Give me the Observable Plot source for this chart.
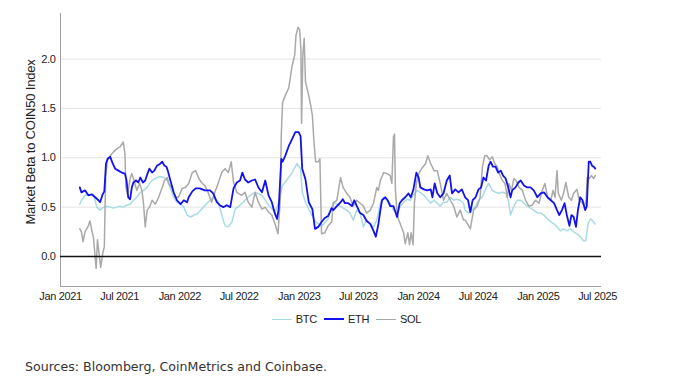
<!DOCTYPE html>
<html>
<head>
<meta charset="utf-8">
<script src="https://cdn.jsdelivr.net/npm/d3@7"></script>
<script src="https://cdn.jsdelivr.net/npm/@observablehq/plot@0.6"></script>
<style>
  html, body { margin: 0; padding: 0; background: #fff; }
  #wrap { position: relative; width: 689px; height: 384px; overflow: hidden; }
  #chart svg { display: block; }
  #chart svg text { letter-spacing: -0.35px; }
  #legend { position: absolute; top: 313px; left: 0; width: 689px; display: flex; justify-content: center; gap: 7px;
            font: 11px "Liberation Sans", Arial, sans-serif; letter-spacing: -0.3px; color: #222; padding-left: 2px; }
  #legend .item { display: flex; align-items: center; gap: 4px; }
  #legend .sw { display: inline-block; width: 20px; height: 0; border-top-style: solid; }
  #source { position: absolute; top: 359px; left: 25px; font: 12.6px "DejaVu Sans", Verdana, sans-serif; color: #333; }
</style>
</head>
<body>
<div id="wrap">
  <div id="chart"></div>
  <div id="legend"></div>
  <div id="source">Sources: Bloomberg, CoinMetrics and Coinbase.</div>
</div>
<script>
const seriesNames = ["BTC", "ETH", "SOL"];
const seriesColors = ["#a9dbe4", "#1212ee", "#a9a9a9"];

const xTicks = ["2021-01-01","2021-07-01","2022-01-01","2022-07-01","2023-01-01","2023-07-01","2024-01-01","2024-07-01","2025-01-01","2025-07-01"];
const yTicks = [0, 0.5, 1, 1.5, 2];
const yLabel = "Market Beta to COIN50 Index";

const ethDates = ["2021-03-01","2021-03-06","2021-03-17","2021-03-27","2021-04-07","2021-04-17","2021-04-27","2021-05-02","2021-05-10","2021-05-15","2021-05-20","2021-05-25","2021-06-02","2021-06-10","2021-06-17","2021-06-27","2021-07-07","2021-07-17","2021-07-22","2021-07-27","2021-08-02","2021-08-07","2021-08-12","2021-08-20","2021-08-27","2021-09-02","2021-09-10","2021-09-17","2021-09-24","2021-09-30","2021-10-08","2021-10-15","2021-10-23","2021-11-02","2021-11-08","2021-11-15","2021-11-21","2021-11-25","2021-12-03","2021-12-13","2021-12-23","2022-01-03","2022-01-13","2022-01-23","2022-01-28","2022-02-08","2022-02-18","2022-03-03","2022-03-18","2022-04-03","2022-04-13","2022-04-24","2022-05-03","2022-05-14","2022-05-24","2022-06-04","2022-06-14","2022-06-24","2022-07-04","2022-07-11","2022-07-19","2022-07-29","2022-08-09","2022-08-19","2022-08-29","2022-09-09","2022-09-19","2022-09-29","2022-10-09","2022-10-17","2022-10-25","2022-10-30","2022-11-07","2022-11-11","2022-11-19","2022-11-30","2022-12-10","2022-12-20","2022-12-30","2023-01-05","2023-01-10","2023-01-20","2023-01-30","2023-02-10","2023-02-18","2023-02-28","2023-03-10","2023-03-20","2023-03-30","2023-04-10","2023-04-15","2023-04-26","2023-05-05","2023-05-14","2023-05-21","2023-05-31","2023-06-11","2023-06-18","2023-06-26","2023-07-06","2023-07-16","2023-07-26","2023-08-06","2023-08-16","2023-08-23","2023-08-31","2023-09-06","2023-09-11","2023-09-21","2023-09-28","2023-10-06","2023-10-16","2023-10-27","2023-11-04","2023-11-11","2023-11-21","2023-12-01","2023-12-08","2023-12-16","2023-12-25","2024-01-01","2024-01-06","2024-01-17","2024-01-27","2024-02-07","2024-02-12","2024-02-19","2024-02-27","2024-03-07","2024-03-17","2024-03-27","2024-04-05","2024-04-12","2024-04-22","2024-05-02","2024-05-12","2024-05-22","2024-05-31","2024-06-07","2024-06-14","2024-06-23","2024-07-02","2024-07-10","2024-07-17","2024-07-25","2024-08-02","2024-08-08","2024-08-15","2024-08-23","2024-08-31","2024-09-08","2024-09-15","2024-09-23","2024-10-01","2024-10-08","2024-10-13","2024-10-23","2024-11-01","2024-11-08","2024-11-18","2024-11-28","2024-12-08","2024-12-18","2024-12-29","2025-01-08","2025-01-18","2025-01-29","2025-02-08","2025-02-18","2025-02-27","2025-03-06","2025-03-14","2025-03-22","2025-03-29","2025-04-06","2025-04-12","2025-04-19","2025-04-26","2025-05-02","2025-05-09","2025-05-16","2025-05-24","2025-05-29","2025-06-04","2025-06-09","2025-06-14","2025-06-19","2025-06-24"];
const ethValues = [0.70,0.65,0.67,0.62,0.63,0.60,0.57,0.55,0.63,0.66,0.94,0.99,1.01,0.94,0.89,0.87,0.85,0.84,0.77,0.60,0.58,0.70,0.75,0.77,0.75,0.80,0.75,0.77,0.84,0.89,0.85,0.87,0.92,0.94,0.96,0.92,0.91,0.87,0.77,0.65,0.57,0.53,0.57,0.55,0.60,0.66,0.69,0.69,0.67,0.67,0.64,0.55,0.52,0.50,0.52,0.50,0.69,0.75,0.77,0.85,0.78,0.75,0.77,0.78,0.70,0.65,0.77,0.62,0.55,0.45,0.38,0.48,0.99,0.96,1.02,1.12,1.19,1.26,1.26,1.22,0.89,0.78,0.55,0.48,0.28,0.30,0.35,0.39,0.41,0.49,0.47,0.51,0.54,0.58,0.54,0.54,0.51,0.57,0.51,0.44,0.42,0.36,0.33,0.26,0.20,0.33,0.47,0.57,0.60,0.57,0.51,0.51,0.40,0.54,0.57,0.60,0.64,0.60,0.68,0.85,0.80,0.70,0.68,0.67,0.68,0.60,0.74,0.64,0.60,0.64,0.77,0.82,0.64,0.68,0.65,0.68,0.60,0.57,0.45,0.57,0.60,0.68,0.70,0.80,0.77,0.92,0.96,0.91,0.91,0.85,0.87,0.82,0.79,0.70,0.60,0.67,0.70,0.75,0.77,0.72,0.70,0.70,0.67,0.60,0.64,0.65,0.60,0.57,0.54,0.47,0.42,0.47,0.54,0.42,0.31,0.42,0.40,0.30,0.47,0.60,0.57,0.47,0.51,0.96,0.96,0.92,0.91,0.89];

const btcDates = ["2021-03-01","2021-03-06","2021-03-17","2021-04-12","2021-04-22","2021-05-02","2021-05-12","2021-05-22","2021-06-02","2021-06-12","2021-06-22","2021-07-02","2021-07-12","2021-07-22","2021-08-02","2021-08-12","2021-08-22","2021-09-02","2021-09-12","2021-09-23","2021-10-02","2021-10-12","2021-10-23","2021-11-02","2021-11-13","2021-11-23","2021-12-03","2021-12-13","2021-12-23","2022-01-03","2022-01-13","2022-01-23","2022-02-03","2022-02-13","2022-02-23","2022-03-08","2022-03-28","2022-04-13","2022-04-29","2022-05-09","2022-05-19","2022-05-29","2022-06-09","2022-06-19","2022-07-04","2022-07-19","2022-08-04","2022-08-19","2022-09-09","2022-09-29","2022-10-19","2022-10-30","2022-11-11","2022-11-25","2022-12-10","2022-12-25","2023-01-05","2023-01-10","2023-01-20","2023-01-30","2023-02-20","2023-03-10","2023-03-30","2023-04-15","2023-05-05","2023-05-26","2023-06-05","2023-06-15","2023-06-26","2023-07-06","2023-07-16","2023-07-26","2023-08-06","2023-08-16","2023-08-26","2023-09-06","2023-09-16","2023-09-26","2023-10-06","2023-10-16","2023-10-27","2023-11-06","2023-11-16","2023-11-27","2023-12-06","2023-12-16","2023-12-27","2024-01-06","2024-01-17","2024-01-27","2024-02-07","2024-02-17","2024-02-27","2024-03-07","2024-03-17","2024-03-27","2024-04-07","2024-04-17","2024-04-27","2024-05-07","2024-05-17","2024-05-22","2024-06-02","2024-06-12","2024-06-23","2024-07-02","2024-07-13","2024-07-23","2024-08-02","2024-08-13","2024-08-23","2024-09-02","2024-09-13","2024-09-23","2024-10-01","2024-10-08","2024-10-18","2024-10-28","2024-11-08","2024-11-18","2024-11-28","2024-12-08","2024-12-18","2024-12-29","2025-01-08","2025-01-18","2025-01-29","2025-02-08","2025-02-18","2025-02-27","2025-03-09","2025-03-19","2025-03-29","2025-04-09","2025-04-19","2025-04-29","2025-05-09","2025-05-19","2025-05-26","2025-06-02","2025-06-09","2025-06-14","2025-06-24"];
const btcValues = [0.53,0.57,0.62,0.63,0.50,0.47,0.50,0.51,0.50,0.49,0.50,0.51,0.50,0.52,0.53,0.57,0.60,0.65,0.67,0.70,0.75,0.78,0.80,0.81,0.80,0.77,0.69,0.60,0.55,0.53,0.50,0.42,0.40,0.42,0.43,0.48,0.55,0.60,0.55,0.42,0.31,0.30,0.35,0.48,0.52,0.57,0.62,0.65,0.62,0.52,0.45,0.55,0.72,0.78,0.85,0.94,0.89,0.65,0.55,0.48,0.35,0.31,0.38,0.55,0.51,0.47,0.44,0.37,0.47,0.44,0.30,0.37,0.33,0.30,0.37,0.54,0.60,0.57,0.54,0.47,0.44,0.51,0.55,0.58,0.57,0.62,0.67,0.65,0.62,0.58,0.54,0.57,0.54,0.51,0.55,0.55,0.60,0.57,0.58,0.57,0.54,0.47,0.44,0.47,0.51,0.57,0.60,0.68,0.74,0.67,0.65,0.64,0.65,0.64,0.57,0.42,0.51,0.57,0.57,0.54,0.51,0.49,0.47,0.44,0.44,0.42,0.38,0.35,0.33,0.30,0.26,0.28,0.26,0.28,0.25,0.23,0.20,0.16,0.16,0.33,0.38,0.37,0.33];

const solDates = ["2021-03-01","2021-03-06","2021-03-11","2021-03-17","2021-03-27","2021-04-01","2021-04-07","2021-04-12","2021-04-17","2021-04-20","2021-04-24","2021-04-30","2021-05-04","2021-05-10","2021-05-15","2021-05-19","2021-05-24","2021-06-02","2021-06-12","2021-06-22","2021-07-02","2021-07-12","2021-07-17","2021-07-20","2021-07-25","2021-08-02","2021-08-07","2021-08-14","2021-08-22","2021-08-31","2021-09-07","2021-09-12","2021-09-17","2021-09-23","2021-09-30","2021-10-08","2021-10-18","2021-10-28","2021-11-08","2021-11-15","2021-11-23","2021-11-28","2021-12-08","2021-12-18","2021-12-28","2022-01-08","2022-01-18","2022-01-28","2022-02-08","2022-02-18","2022-02-28","2022-03-08","2022-03-18","2022-03-28","2022-04-08","2022-04-18","2022-04-29","2022-05-09","2022-05-19","2022-05-29","2022-06-07","2022-06-14","2022-06-24","2022-07-09","2022-07-19","2022-07-29","2022-08-09","2022-08-19","2022-08-29","2022-09-09","2022-09-19","2022-09-29","2022-10-09","2022-10-19","2022-10-28","2022-11-04","2022-11-07","2022-11-11","2022-11-19","2022-11-30","2022-12-10","2022-12-18","2022-12-22","2022-12-28","2023-01-02","2023-01-06","2023-01-08","2023-01-12","2023-01-16","2023-01-20","2023-01-30","2023-02-05","2023-02-10","2023-02-15","2023-02-20","2023-02-28","2023-03-05","2023-03-08","2023-03-10","2023-03-20","2023-03-30","2023-04-10","2023-04-15","2023-04-26","2023-05-07","2023-05-15","2023-05-26","2023-06-05","2023-06-15","2023-06-26","2023-07-06","2023-07-16","2023-07-26","2023-08-06","2023-08-16","2023-08-26","2023-08-31","2023-09-06","2023-09-16","2023-09-26","2023-10-06","2023-10-11","2023-10-16","2023-10-19","2023-10-22","2023-10-27","2023-11-01","2023-11-06","2023-11-16","2023-11-21","2023-11-29","2023-12-04","2023-12-09","2023-12-15","2023-12-19","2023-12-25","2024-01-01","2024-01-12","2024-01-22","2024-01-29","2024-02-07","2024-02-17","2024-02-27","2024-03-07","2024-03-17","2024-03-27","2024-04-07","2024-04-17","2024-04-27","2024-05-07","2024-05-17","2024-05-22","2024-06-02","2024-06-07","2024-06-17","2024-06-28","2024-07-07","2024-07-14","2024-07-21","2024-07-28","2024-08-05","2024-08-13","2024-08-21","2024-08-28","2024-09-02","2024-09-13","2024-09-21","2024-09-28","2024-10-03","2024-10-11","2024-10-18","2024-10-25","2024-11-03","2024-11-13","2024-11-23","2024-12-03","2024-12-13","2024-12-23","2025-01-03","2025-01-13","2025-01-21","2025-01-29","2025-02-08","2025-02-15","2025-02-21","2025-02-27","2025-03-03","2025-03-12","2025-03-19","2025-03-26","2025-04-04","2025-04-12","2025-04-19","2025-04-29","2025-05-06","2025-05-14","2025-05-22","2025-05-27","2025-05-30","2025-06-06","2025-06-12","2025-06-19","2025-06-24"];
const solValues = [0.28,0.25,0.15,0.25,0.31,0.36,0.26,0.19,-0.01,-0.12,0.17,0.00,-0.11,0.03,0.10,0.80,0.97,1.02,1.06,1.09,1.11,1.16,1.04,0.70,0.63,0.79,0.84,0.77,0.67,0.74,0.67,0.53,0.30,0.47,0.50,0.57,0.53,0.60,0.70,0.77,0.80,0.74,0.69,0.60,0.60,0.69,0.70,0.74,0.85,0.87,0.79,0.75,0.72,0.65,0.55,0.65,0.75,0.85,0.89,0.85,0.96,0.75,0.65,0.62,0.65,0.55,0.50,0.65,0.55,0.48,0.50,0.45,0.42,0.33,0.23,0.58,1.23,1.56,1.63,1.71,1.93,2.04,2.24,2.32,2.30,2.10,1.35,2.05,2.21,1.77,1.63,1.53,1.43,1.16,0.96,0.96,0.99,0.55,0.23,0.24,0.31,0.35,0.54,0.57,0.80,0.70,0.64,0.60,0.51,0.57,0.54,0.51,0.44,0.47,0.54,0.70,0.67,0.77,0.85,0.84,0.82,0.74,1.21,1.24,0.67,0.44,0.37,0.33,0.24,0.13,0.24,0.12,0.24,0.12,0.54,0.74,0.84,0.90,0.94,1.02,0.94,0.87,0.87,0.74,0.57,0.64,0.57,0.51,0.40,0.47,0.37,0.37,0.31,0.28,0.47,0.51,0.60,0.91,1.02,1.02,0.98,1.01,0.94,0.91,0.85,0.77,0.74,0.60,0.74,0.67,0.79,0.77,0.70,0.67,0.57,0.51,0.52,0.57,0.54,0.67,0.74,0.60,0.57,0.67,0.60,0.87,0.64,0.57,0.64,0.75,0.60,0.57,0.64,0.68,0.57,0.55,0.51,0.57,0.80,0.79,0.82,0.79,0.82];

const xDomain = [new Date("2021-01-01"), new Date("2025-07-13")];
const yDomain = [-0.304, 2.462];

function toRows(dates, values) {
  return dates.map((d, i) => ({date: new Date(d), beta: values[i]}));
}
const btc = toRows(btcDates, btcValues);
const eth = toRows(ethDates, ethValues);
const sol = toRows(solDates, solValues);

const font = '"Liberation Sans", Arial, sans-serif';

const plot = Plot.plot({
  width: 689,
  height: 302,
  marginTop: 13,
  marginBottom: 16,
  marginLeft: 60,
  marginRight: 88,
  style: {fontFamily: font, fontSize: "11px", color: "#222", background: "#fff"},
  x: {type: "utc", domain: xDomain, ticks: xTicks.map(d => new Date(d)), tickFormat: d3.utcFormat("%b %Y"), tickSize: 0, tickPadding: 6, label: null},
  y: {domain: yDomain, ticks: yTicks, tickFormat: d3.format(".1f"), tickSize: 0, tickPadding: 5, label: null},
  marks: [
    Plot.ruleY(yTicks.filter(t => t !== 0), {stroke: "#e4e4e4", strokeWidth: 1}),
    Plot.ruleX([xDomain[0]], {stroke: "#a0a0a0", strokeWidth: 1}),
    Plot.ruleY([yDomain[0]], {stroke: "#a0a0a0", strokeWidth: 1}),
    Plot.line(btc, {x: "date", y: "beta", stroke: seriesColors[0], strokeWidth: 1.5}),
    Plot.line(sol, {x: "date", y: "beta", stroke: seriesColors[2], strokeWidth: 1.5}),
    Plot.line(eth, {x: "date", y: "beta", stroke: seriesColors[1], strokeWidth: 1.8}),
    Plot.ruleY([0], {stroke: "#111", strokeWidth: 1.5})
  ]
});

d3.select(plot).append("text")
  .attr("transform", "translate(32,142) rotate(-90)")
  .attr("text-anchor", "middle")
  .attr("dominant-baseline", "middle")
  .attr("font-family", font)
  .attr("font-size", "13px")
  .style("letter-spacing", "-0.2px")
  .attr("fill", "#222")
  .text(yLabel);

document.getElementById("chart").appendChild(plot);

const legend = d3.select("#legend");
seriesNames.forEach((name, i) => {
  const item = legend.append("div").attr("class", "item");
  item.append("span").attr("class", "sw")
    .style("border-top-color", seriesColors[i])
    .style("border-top-width", i === 1 ? "2px" : "1.5px");
  item.append("span").text(name);
});
</script>
</body>
</html>
